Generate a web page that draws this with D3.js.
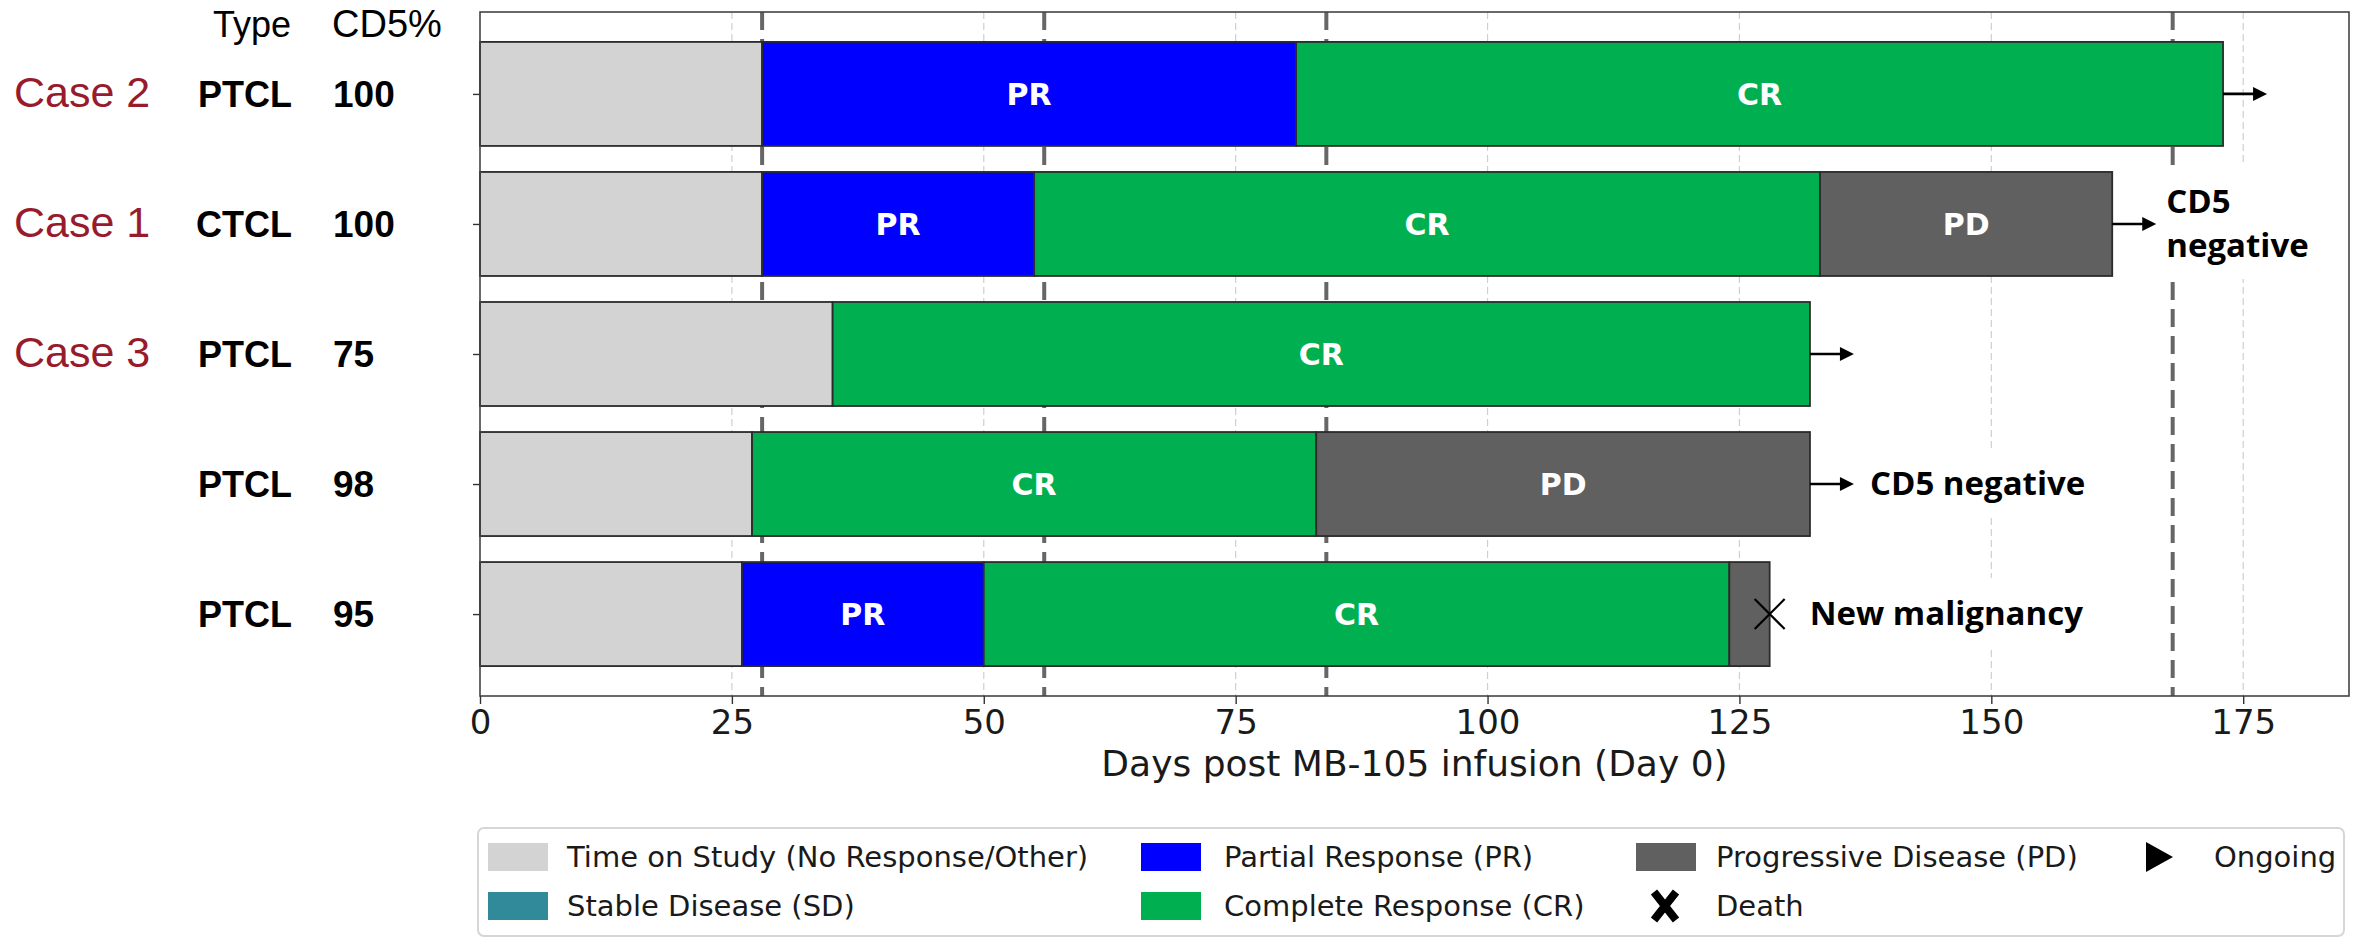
<!DOCTYPE html>
<html>
<head>
<meta charset="utf-8">
<script src="https://cdn.jsdelivr.net/npm/d3@7"></script>
<style>
  html, body { margin: 0; padding: 0; background: #fff; }
  svg { display: block; }
</style>
</head>
<body>
<svg id="chart" width="2357" height="939"></svg>
<script>
// ---- data ----
const caseLabels = ["Case 2", "Case 1", "Case 3", "", ""];
const diseaseTypes = ["PTCL", "CTCL", "PTCL", "PTCL", "PTCL"];
const cd5Percent = ["100", "100", "75", "98", "95"];

// response phases per patient: [start day, end day, phase]
const phases = [
  [[0, 28, "TOS"], [28, 81, "PR"], [81, 173, "CR"]],
  [[0, 28, "TOS"], [28, 55, "PR"], [55, 133, "CR"], [133, 162, "PD"]],
  [[0, 35, "TOS"], [35, 132, "CR"]],
  [[0, 27, "TOS"], [27, 83, "CR"], [83, 132, "PD"]],
  [[0, 26, "TOS"], [26, 50, "PR"], [50, 124, "CR"], [124, 128, "PD"]]
];
const ongoing = [true, true, true, true, false];
const deathDay = [null, null, null, null, 128];
const notes = ["", "CD5\nnegative", "", "CD5 negative", "New malignancy"];

const assessmentDays = [28, 56, 84, 168];
const xTicks = [0, 25, 50, 75, 100, 125, 150, 175];
const xMax = 185.5;

const phaseColor = {
  TOS: "#d3d3d3",
  SD: "#318a9a",
  PR: "#0000ff",
  CR: "#00b050",
  PD: "#606060"
};
const legendItems = [
  { key: "TOS", label: "Time on Study (No Response/Other)", kind: "patch" },
  { key: "SD", label: "Stable Disease (SD)", kind: "patch" },
  { key: "PR", label: "Partial Response (PR)", kind: "patch" },
  { key: "CR", label: "Complete Response (CR)", kind: "patch" },
  { key: "PD", label: "Progressive Disease (PD)", kind: "patch" },
  { key: "death", label: "Death", kind: "death" },
  { key: "ongoing", label: "Ongoing", kind: "ongoing" }
];

// ---- layout ----
const svg = d3.select("#chart");
const plot = { left: 480, right: 2349, top: 12, bottom: 696 };

const x = d3.scaleLinear().domain([0, xMax]).range([plot.left, plot.right]);
const y = d3.scaleLinear().domain([-0.63, 4.63]).range([plot.top, plot.bottom]);
const barHalf = (y(0.4) - y(0));
const rows = d3.range(phases.length);

const labelFont = "'Liberation Sans', Arial, sans-serif";
const axisFont = "'DejaVu Sans', sans-serif";
const noteFont = "'Open Sans', 'Liberation Sans', sans-serif";

// light grid at each tick
svg.append("g")
  .selectAll("line")
  .data(xTicks.filter(d => d > 0))
  .join("line")
  .attr("x1", d => x(d)).attr("x2", d => x(d))
  .attr("y1", plot.top).attr("y2", plot.bottom)
  .attr("stroke", "#cfcfcf")
  .attr("stroke-width", 1.2)
  .attr("stroke-dasharray", "7,4");

// assessment reference lines
svg.append("g")
  .selectAll("line")
  .data(assessmentDays)
  .join("line")
  .attr("x1", d => x(d)).attr("x2", d => x(d))
  .attr("y1", plot.top).attr("y2", plot.bottom)
  .attr("stroke", "#666")
  .attr("stroke-width", 4)
  .attr("stroke-dasharray", "18,9");

// bars
const segs = rows.flatMap(i => phases[i].map(p => ({ row: i, s: p[0], e: p[1], k: p[2] })));
svg.append("g")
  .selectAll("rect")
  .data(segs)
  .join("rect")
  .attr("x", d => x(d.s))
  .attr("width", d => x(d.e) - x(d.s))
  .attr("y", d => y(d.row) - barHalf)
  .attr("height", barHalf * 2)
  .attr("fill", d => phaseColor[d.k])
  .attr("stroke", "#2b2b2b")
  .attr("stroke-width", 1.8);

// phase labels inside bars
svg.append("g")
  .selectAll("text")
  .data(segs.filter(d => d.k !== "TOS" && d.e - d.s >= 10))
  .join("text")
  .attr("x", d => x((d.s + d.e) / 2))
  .attr("y", d => y(d.row) + 11)
  .attr("text-anchor", "middle")
  .attr("font-family", axisFont)
  .attr("font-weight", "bold")
  .attr("font-size", 30)
  .attr("fill", "#fff")
  .text(d => d.k);

// ongoing arrows
const barEnd = rows.map(i => phases[i][phases[i].length - 1][1]);
const shaft = 30, headLen = 14, headHalf = 7;
const arrows = svg.append("g");
rows.filter(i => ongoing[i]).forEach(i => {
  const x0 = x(barEnd[i]), cy = y(i);
  arrows.append("line")
    .attr("x1", x0).attr("x2", x0 + shaft + 2)
    .attr("y1", cy).attr("y2", cy)
    .attr("stroke", "#000").attr("stroke-width", 2.6);
  arrows.append("path")
    .attr("d", `M${x0 + shaft},${cy - headHalf}L${x0 + shaft + headLen},${cy}L${x0 + shaft},${cy + headHalf}Z`)
    .attr("fill", "#000");
});

// death markers
const deaths = svg.append("g");
rows.filter(i => deathDay[i] != null).forEach(i => {
  const cx = x(deathDay[i]), cy = y(i), h = 15;
  deaths.append("path")
    .attr("d", `M${cx - h},${cy - h}L${cx + h},${cy + h}M${cx - h},${cy + h}L${cx + h},${cy - h}`)
    .attr("stroke", "#000").attr("stroke-width", 2.2).attr("fill", "none");
});

// annotations with white boxes
const noteG = svg.append("g");
rows.filter(i => notes[i]).forEach(i => {
  const lines = notes[i].split("\n");
  const nx = ongoing[i] ? x(barEnd[i]) + shaft + headLen + (lines.length > 1 ? 10 : 16) : x(deathDay[i]) + 40;
  const lineGap = 44;
  const baseY = y(i) + 11 - (lines.length - 1) * lineGap / 2;
  const box = noteG.append("rect").attr("fill", "#fff");
  const t = noteG.append("text")
    .attr("font-family", noteFont)
    .attr("font-weight", "bold")
    .attr("font-size", 33)
    .attr("fill", "#000");
  lines.forEach((ln, j) => {
    t.append("tspan").attr("x", nx).attr("y", baseY + j * lineGap).text(ln);
  });
  const bb = t.node().getBBox();
  box.attr("x", bb.x - 10).attr("y", bb.y - 12)
     .attr("width", bb.width + 20).attr("height", bb.height + 24);
});

// frame
svg.append("rect")
  .attr("x", plot.left).attr("y", plot.top)
  .attr("width", plot.right - plot.left).attr("height", plot.bottom - plot.top)
  .attr("fill", "none").attr("stroke", "#444").attr("stroke-width", 1.6);

// x axis
const xAxis = svg.append("g")
  .attr("transform", `translate(0,${plot.bottom})`)
  .call(d3.axisBottom(x).tickValues(xTicks).tickSize(8).tickPadding(6).tickFormat(d3.format("d")));
xAxis.select(".domain").remove();
xAxis.selectAll(".tick line").attr("stroke", "#333").attr("stroke-width", 1.4);
xAxis.selectAll(".tick text")
  .attr("font-family", axisFont).attr("font-size", 34).attr("fill", "#1a1a1a");

svg.append("text")
  .attr("x", (plot.left + plot.right) / 2)
  .attr("y", 776)
  .attr("text-anchor", "middle")
  .attr("font-family", axisFont).attr("font-size", 36).attr("fill", "#1a1a1a")
  .text("Days post MB-105 infusion (Day 0)");

// y ticks
const yAxis = svg.append("g")
  .attr("transform", `translate(${plot.left},0)`)
  .call(d3.axisLeft(y).tickValues(rows).tickSize(7).tickFormat(""));
yAxis.select(".domain").remove();
yAxis.selectAll(".tick line").attr("stroke", "#333").attr("stroke-width", 1.4);

// row labels
svg.append("g").selectAll("text")
  .data(rows)
  .join("text")
  .attr("x", 14).attr("y", i => y(i) + 13)
  .attr("font-family", labelFont).attr("font-size", 43).attr("fill", "#981b2d")
  .text(i => caseLabels[i]);

svg.append("g").selectAll("text")
  .data(rows)
  .join("text")
  .attr("x", 292).attr("y", i => y(i) + 13)
  .attr("text-anchor", "end")
  .attr("font-family", labelFont).attr("font-weight", "bold").attr("font-size", 36).attr("fill", "#000")
  .text(i => diseaseTypes[i]);

svg.append("g").selectAll("text")
  .data(rows)
  .join("text")
  .attr("x", 333).attr("y", i => y(i) + 13)
  .attr("font-family", labelFont).attr("font-weight", "bold").attr("font-size", 37).attr("fill", "#000")
  .text(i => cd5Percent[i]);

svg.append("text")
  .attr("x", 291).attr("y", 37).attr("text-anchor", "end")
  .attr("font-family", labelFont).attr("font-size", 36).attr("fill", "#000")
  .text("Type");
svg.append("text")
  .attr("x", 332).attr("y", 37)
  .attr("font-family", labelFont).attr("font-size", 38).attr("fill", "#000")
  .text("CD5%");

// legend
const legend = svg.append("g");
legend.append("rect")
  .attr("x", 478).attr("y", 828).attr("width", 1866).attr("height", 108)
  .attr("rx", 6).attr("ry", 6)
  .attr("fill", "#fff").attr("stroke", "#d6d6d6").attr("stroke-width", 2);

const colX = [488, 1141, 1636, 2144];
const textX = [567, 1224, 1716, 2214];
const rowY = [857, 906];
legendItems.forEach((item, idx) => {
  const c = Math.floor(idx / 2), r = idx % 2;
  const cy = rowY[r];
  if (item.kind === "patch") {
    legend.append("rect")
      .attr("x", colX[c]).attr("y", cy - 14).attr("width", 60).attr("height", 28)
      .attr("fill", phaseColor[item.key]);
  } else if (item.kind === "death") {
    const cx = colX[c] + 29, h = 11;
    legend.append("path")
      .attr("d", `M${cx - h},${cy - h - 3}L${cx + h},${cy + h + 3}M${cx - h},${cy + h + 3}L${cx + h},${cy - h - 3}`)
      .attr("stroke", "#000").attr("stroke-width", 8).attr("fill", "none");
  } else {
    const x0 = colX[c] + 2;
    legend.append("path")
      .attr("d", `M${x0},${cy - 15}L${x0 + 27},${cy}L${x0},${cy + 15}Z`)
      .attr("fill", "#000");
  }
  legend.append("text")
    .attr("x", textX[c]).attr("y", cy + 10)
    .attr("font-family", axisFont).attr("font-size", 29).attr("fill", "#1a1a1a")
    .text(item.label);
});
</script>
</body>
</html>
